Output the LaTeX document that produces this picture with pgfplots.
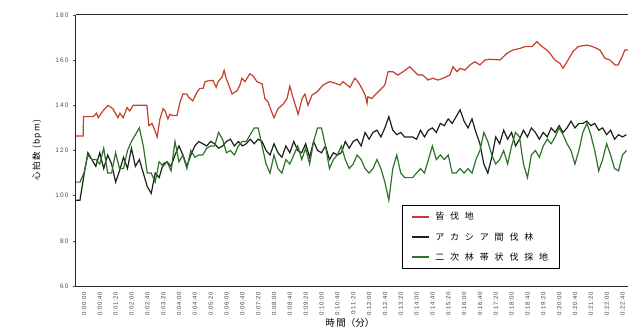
\documentclass[border=0pt]{standalone}
\usepackage{fontspec}
\setmainfont{Liberation Sans}
\newfontfamily\jp{Noto Sans CJK JP}
\newfontfamily\jpl[LetterSpace=65]{Noto Sans CJK JP}
\newfontfamily\jpy[LetterSpace=15]{Noto Sans CJK JP}
\newfontfamily\numy[LetterSpace=18]{Liberation Sans}
\newfontfamily\numx[LetterSpace=8]{Liberation Sans}
\usepackage{pgfplots}
\pgfplotsset{compat=1.18}
\definecolor{cred}{RGB}{196,62,42}
\definecolor{cblk}{RGB}{25,35,25}
\definecolor{cgrn}{RGB}{45,115,40}
\pgfplotstableread{
t v
0 126.4
18 126.4
19 135
43 135
52 136.5
56 134.5
68 137.5
81 140
93 138.5
106 134.5
111 136.5
119 134.5
129 139
136 137.5
144 140
179 140
184 131
192 132
199 129
205 126
212 134
220 138.5
225 137.5
232 134
237 136
245 135.5
255 135.5
263 141.5
270 145
280 145
285 143.5
295 142
306 146
313 147.5
321 147.5
326 150.5
338 151
346 151
354 148
359 150.5
369 152.5
374 155.5
379 152
386 149
394 145
407 146.5
414 149
419 152
427 150.5
432 152
439 154
447 153
457 150.5
470 149.5
477 143
485 141.5
490 139
500 134.5
510 138.5
523 140.5
533 143
540 148.5
548 143.5
561 136
571 143
578 145
586 140
596 144.5
609 146
624 149
641 150.5
659 149.5
667 149
674 150.5
692 148
704 152
712 150.5
722 147.5
730 144.6
735 140.9
737 143.8
747 143
755 144.6
768 146.8
780 149
788 154.9
800 154.9
813 153.4
826 154.9
843 157.1
851 155.6
864 153.4
876 153.4
889 151.2
901 152
914 151.2
927 152
944 153.4
952 157.1
962 154.9
970 156.4
982 155.6
995 157.9
1007 159.3
1020 157.9
1033 160.1
1045 160.4
1071 160.1
1088 163
1103 164.5
1121 165.2
1134 166
1151 166
1164 168.2
1177 166
1189 164.5
1197 163
1209 160.1
1222 158.6
1230 156.4
1240 159.3
1255 163.8
1268 166
1290 166.7
1305 166
1323 164.5
1336 160.8
1348 160.1
1361 157.9
1369 157.9
1379 161.5
1386 164.5
1394 164.5
}\redtab
\pgfplotstableread{
t b g
0 98 106
10 98 106
20 109 110
30 119 118
40 116 116
50 113 116
60 119 114
70 112 121
80 118 110
90 114 110
100 106 119
110 111 112
120 117 112
130 112 120
140 121 124
150 113 127
160 116 130
170 110 122
180 104 110
190 101 110
200 110 106
210 108 115
220 114 113
230 115 115
240 113 111
250 118 124
260 122 115
270 118 118
280 113 112
290 118 120
300 122 117
310 124 118
320 123 118
330 122 121
340 124 122
350 123 122
360 121 128
370 122 125
380 124 119
390 125 120
400 122 118
410 124 122
420 122 124
430 123 124
440 125 127
450 123 130
460 125 130
470 124 122
480 120 114
490 118 110
500 123 118
510 119 112
520 117 110
530 122 116
540 119 114
550 124 118
560 120 122
570 119 116
580 123 121
590 117 114
600 124 124
610 120 130
620 119 130
630 122 122
640 116 112
650 119 116
660 118 118
670 119 122
680 124 116
690 121 112
700 124 114
710 125 118
720 122 116
730 128 112
740 125 110
750 128 112
760 129 116
770 126 112
780 130 106
790 135 98
800 129 112
810 127 118
820 128 110
830 126 108
840 126 108
850 126 108
860 125 110
870 129 112
880 126 110
890 129 116
900 130 122
910 128 116
920 132 118
930 131 116
940 134 118
950 132 110
960 135 110
970 138 112
980 133 110
990 130 112
1000 134 110
1010 128 116
1020 123 120
1030 114 128
1040 110 124
1050 117 118
1060 126 114
1070 123 116
1080 129 120
1090 125 114
1100 128 122
1110 122 128
1120 125 126
1130 129 114
1140 126 108
1150 130 118
1160 128 120
1170 125 117
1180 128 122
1190 126 125
1200 130 123
1210 128 126
1220 131 130
1230 128 127
1240 130 123
1250 133 120
1260 130 114
1270 132 120
1280 132 128
1290 133 132
1300 131 127
1310 132 120
1320 129 111
1330 130 116
1340 127 123
1350 129 118
1360 125 112
1370 127 111
1380 126 118
1390 127 120
}\bgtab
\begin{document}
\begin{tikzpicture}
\begin{axis}[
  at={(0,0)}, anchor=south west,
  scale only axis, width=552pt, height=271pt,
  xmin=0, xmax=1394, ymin=60, ymax=180,
  axis x line=box, axis y line=left,
  axis line style={-, draw=black!85, line width=1pt},
  ytick={60,80,...,180},
  y tick style={draw=black!70, line width=0.6pt},
  tick align=outside, major tick length=3pt,
  yticklabel style={font=\numy\fontsize{6.5}{7}\selectfont, text=black!70, xshift=-1pt},
  /pgf/number format/assume math mode=true,
  xtick={0,40,...,1360},
  x tick style={draw=none},
  xticklabels={0:00:00,0:00:40,0:01:20,0:02:00,0:02:40,0:03:20,0:04:00,0:04:40,0:05:20,0:06:00,0:06:40,0:07:20,0:08:00,0:08:40,0:09:20,0:10:00,0:10:40,0:11:20,0:12:00,0:12:40,0:13:20,0:14:00,0:14:40,0:15:20,0:16:00,0:16:40,0:17:20,0:18:00,0:18:40,0:19:20,0:20:00,0:20:40,0:21:20,0:22:00,0:22:40},
  xticklabel style={xshift=8pt, rotate=90, anchor=east, font=\numx\fontsize{6}{6}\selectfont, text=black!75},
  xlabel={\jp 時\,間（分）},
  xlabel style={at={(axis description cs:0.496,0)}, anchor=center, yshift=-37pt, font=\fontsize{9.5}{10}\selectfont},
  ylabel={\jpy 心拍数 (bpm)},
  ylabel style={at={(axis description cs:-0.0707,0.502)}, anchor=center, font=\fontsize{8.5}{9}\selectfont},
  legend style={at={(0.590,0.299)}, anchor=north west, draw=black, line width=0.8pt,
    font=\jpl\fontsize{9}{10}\selectfont, inner xsep=9pt, inner ysep=5pt,
    row sep=7pt, column sep=4pt, cells={anchor=west}},
  legend cell align=left,
  legend image code/.code={\draw[#1, line width=1.2pt] (0pt,0pt) -- (17pt,0pt);},
]
\addplot[cred, line width=1.2pt] table[x=t, y=v] {\redtab};
\addplot[cblk, line width=1.2pt] table[x=t, y=b] {\bgtab};
\addplot[cgrn, line width=1.2pt] table[x=t, y=g] {\bgtab};
\legend{皆伐地, アカシア間伐林, 二次林帯状伐採地}
\end{axis}
\pgfresetboundingbox
\path (-76pt,-46pt) rectangle (552pt,286pt);
\end{tikzpicture}
\end{document}
